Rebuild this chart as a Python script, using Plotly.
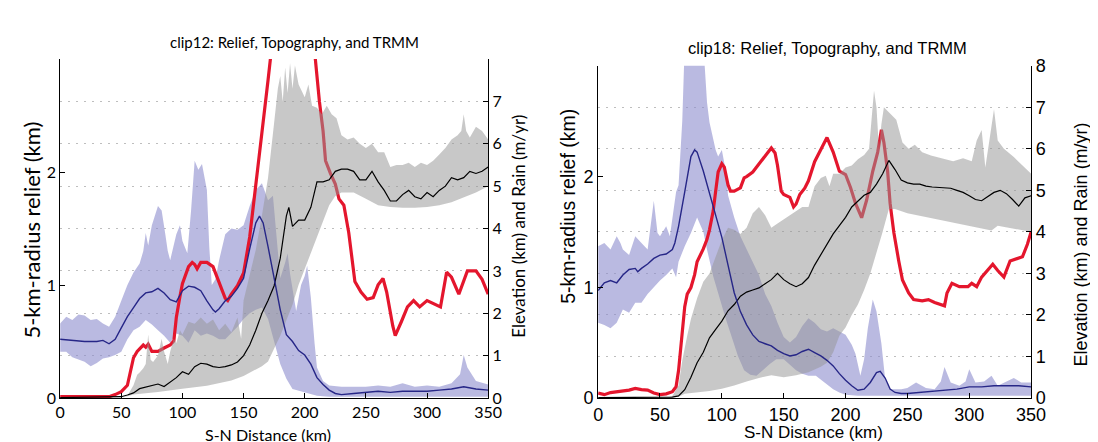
import plotly.graph_objects as go

W, H = 1098, 442

# ---------------- clip12 (left panel) ----------------
c12_relief_x = [0, 10, 20, 30, 35, 40, 45, 50, 55, 60, 65, 70, 75, 80, 85, 90, 95, 100, 105, 110, 115, 120,
                125, 127, 130, 135, 140, 145, 150, 155, 160, 163, 166, 170, 175, 180, 185, 190, 195, 200, 205,
                210, 215, 220, 225, 230, 240, 250, 260, 270, 280, 290, 300, 310, 320, 330, 335, 340, 350]
c12_relief = [.52, .51, .50, .50, .51, .48, .52, .62, .72, .80, .88, .93, .94, .97, .93, .87, .85, .95, .99, .98,
              .95, .86, .78, .76, .79, .86, .90, .97, 1.06, 1.32, 1.55, 1.61, 1.55, 1.34, 1.06, .78, .56, .50,
              .42, .38, .30, .18, .12, .07, .04, .03, .04, .05, .06, .05, .06, .06, .06, .07, .08, .10, .09,
              .08, .07]

c12_relief_hi_x = [0, 5, 10, 15, 20, 25, 30, 35, 40, 45, 50, 55, 60, 65, 68, 70, 72, 75, 80, 83, 86, 88, 90,
                   95, 98, 100, 104, 107, 110, 113, 116, 120, 122, 124, 127, 130, 135, 140, 145, 150, 155, 160,
                   165, 170, 174, 177, 180, 184, 186, 188, 190, 193, 197, 200, 202, 205, 208, 210, 215, 220,
                   230, 240, 250, 260, 270, 280, 290, 300, 310, 320, 327, 330, 333, 340, 350]
c12_relief_hi = [.66, .72, .69, .74, .73, .69, .70, .66, .63, .72, .86, 1.0, 1.11, 1.19, 1.3, 1.46, 1.35, 1.53,
                 1.70, 1.66, 1.45, 1.3, 1.22, 1.45, 1.53, 1.39, 1.28, 1.65, 2.10, 2.02, 2.07, 1.84, 1.33, 1.0,
                 1.05, 1.22, 1.45, 1.50, 1.49, 1.53, 1.70, 1.84, 1.9, 1.75, 1.79, 1.4, 1.06, 1.2, 1.28, 1.1,
                 .97, .77, 1.0, 1.08, 1.17, .89, .49, .27, .15, .11, .10, .10, .10, .11, .10, .13, .10, .11,
                 .10, .13, .21, .38, .27, .15, .12]

c12_relief_lo_x = [0, 5, 10, 15, 20, 25, 30, 35, 40, 45, 50, 55, 60, 65, 70, 75, 80, 85, 90, 95, 100, 105, 110,
                   115, 120, 125, 130, 135, 140, 145, 150, 155, 160, 165, 170, 175, 180, 185, 190, 200, 210,
                   220, 230, 260, 300, 330, 350]
c12_relief_lo = [.41, .41, .36, .34, .32, .28, .31, .35, .36, .38, .41, .52, .60, .63, .69, .65, .60, .55, .49,
                 .57, .55, .49, .60, .55, .57, .55, .52, .52, .57, .63, .70, .75, .78, .80, .70, .50, .30, .17,
                 .08, .05, .02, .01, .01, .01, .01, .01, .01]

c12_elev_hi_x = [50, 55, 60, 63, 65, 68, 70, 72, 74, 76, 80, 83, 85, 88, 90, 93, 95, 98, 100, 105, 110, 115,
                 120, 125, 130, 135, 140, 145, 148, 150, 155, 160, 165, 170, 175, 178, 180, 182, 184, 186, 188,
                 190, 192, 195, 200, 203, 206, 210, 214, 218, 222, 226, 230, 235, 240, 245, 250, 255, 260, 265,
                 270, 275, 280, 285, 290, 295, 300, 305, 310, 315, 320, 325, 328, 330, 332, 335, 340, 345, 350]
c12_elev_hi = [0, .05, .3, .55, .6, .7, .8, 1.5, .9, .85, 1.0, 1.4, 1.1, .8, 1.1, 1.4, 1.3, 1.6, 1.5, 1.8,
               1.75, 1.9, 1.75, 1.85, 1.6, 1.75, 1.55, 1.9, 1.4, 2.3, 2.9, 3.5, 4.3, 5.2, 6.5, 7.3, 7.6, 7.0,
               7.8, 7.2, 7.9, 7.3, 7.85, 7.4, 7.1, 7.4, 6.9, 6.85, 6.7, 6.9, 6.7, 6.6, 6.2, 6.1, 6.15, 6.0, 5.9,
               6.0, 5.8, 5.8, 5.45, 5.5, 5.5, 5.55, 5.45, 5.55, 5.5, 5.6, 5.75, 5.9, 6.1, 6.2, 6.3, 6.7, 6.3,
               6.15, 6.4, 6.3, 6.1]

c12_elev_lo_x = [50, 60, 80, 100, 120, 140, 150, 160, 165, 170, 175, 180, 185, 190, 195, 200, 205, 210, 215,
                 220, 225, 230, 240, 250, 260, 270, 280, 290, 300, 310, 320, 330, 340, 350]
c12_elev_lo = [0, .08, .14, .22, .29, .41, .52, .67, .75, .86, 1.17, 1.47, 1.84, 2.2, 2.67, 3.05, 3.42, 3.8,
               4.17, 4.55, 4.77, 4.85, 4.85, 4.7, 4.55, 4.51, 4.49, 4.49, 4.51, 4.55, 4.62, 4.74, 4.85, 5.0]

c12_elev_x = [0, 50, 55, 60, 65, 70, 75, 80, 85, 90, 95, 100, 105, 110, 115, 120, 125, 130, 135, 140, 145, 150,
              155, 160, 165, 170, 175, 180, 185, 187, 190, 195, 200, 205, 210, 215, 220, 225, 230, 235, 240,
              245, 250, 255, 260, 265, 270, 275, 280, 285, 290, 295, 300, 305, 310, 315, 320, 325, 330, 335,
              340, 345, 350]
c12_elev = [.01, .03, .07, .12, .22, .26, .29, .33, .27, .37, .48, .62, .56, .74, .82, .80, .74, .72, .74, .78,
            .85, 1.0, 1.25, 1.6, 2.0, 2.3, 2.65, 3.3, 4.3, 4.5, 4.05, 4.2, 4.2, 4.5, 5.1, 5.1, 5.15, 5.35, 5.4,
            5.4, 5.35, 5.15, 5.15, 5.35, 5.1, 4.9, 4.65, 4.65, 4.8, 4.9, 4.75, 4.7, 4.85, 4.75, 4.9, 5.0, 5.2,
            5.15, 5.2, 5.35, 5.3, 5.35, 5.45]

c12_rain_x = [0, 40, 45, 50, 55, 58, 60, 63, 65, 68, 70, 72, 75, 80, 85, 90, 93, 95, 98, 100, 105, 108, 110,
              112, 115, 120, 125, 130, 135, 137, 140, 145, 150, 155, 160, 165, 170, 175, 180, 200, 205, 208,
              212, 215, 217, 221, 225, 228, 232, 236, 239, 241, 246, 251, 256, 260, 264, 267, 272, 274, 279,
              284, 289, 294, 300, 307, 311, 316, 320, 326, 333, 340, 345, 350]
c12_rain = [.03, .03, .08, .15, .3, .7, .95, 1.1, 1.15, 1.25, 1.2, 1.27, 1.1, 1.1, 1.18, 1.25, 1.35, 1.9, 2.4,
            2.7, 3.1, 3.2, 3.15, 3.05, 3.2, 3.2, 3.1, 2.7, 2.35, 2.3, 2.45, 2.65, 2.95, 3.8, 5.0, 6.2, 7.5,
            8.8, 10, 10, 9.5, 8.2, 7.0, 6.3, 5.6, 5.3, 5.05, 4.7, 4.55, 3.9, 3.25, 2.75, 2.5, 2.33, 2.37, 2.67,
            2.82, 2.5, 1.7, 1.47, 1.8, 2.15, 2.3, 2.15, 2.3, 2.2, 2.15, 2.97, 2.85, 2.45, 3.0, 3.0, 2.8, 2.45]

# ---------------- clip18 (right panel) ----------------
c18_relief_x = [0, 5, 10, 15, 20, 25, 30, 32, 35, 40, 45, 50, 55, 60, 62, 65, 70, 75, 78, 80, 85, 90, 95, 100,
                105, 110, 115, 120, 125, 130, 135, 140, 145, 150, 155, 160, 165, 170, 175, 180, 185, 190, 195,
                200, 205, 210, 215, 220, 225, 228, 232, 236, 240, 245, 250, 260, 270, 280, 290, 300, 310, 320,
                330, 340, 350]
c18_relief = [.97, 1.04, 1.06, 1.04, 1.11, 1.16, 1.17, 1.14, 1.17, 1.21, 1.26, 1.29, 1.30, 1.34, 1.40, 1.55,
              1.86, 2.18, 2.24, 2.22, 2.05, 1.85, 1.65, 1.45, 1.2, .95, .78, .66, .57, .51, .49, .47, .43, .40,
              .38, .39, .42, .44, .41, .38, .34, .29, .22, .16, .11, .07, .08, .14, .23, .24, .18, .08, .05,
              .04, .04, .05, .06, .07, .08, .10, .10, .11, .11, .11, .10]

c18_relief_hi_x = [0, 5, 10, 15, 18, 20, 25, 30, 35, 40, 45, 48, 50, 55, 58, 60, 63, 65, 68, 70, 85, 88, 90, 95,
                   97, 100, 103, 105, 110, 115, 120, 125, 130, 135, 140, 145, 150, 155, 160, 165, 170, 175, 180,
                   185, 190, 195, 200, 205, 208, 212, 215, 218, 222, 225, 229, 232, 236, 245, 250, 257, 265,
                   272, 277, 280, 285, 292, 297, 300, 305, 312, 318, 323, 330, 336, 342, 350]
c18_relief_hi = [1.37, 1.40, 1.34, 1.46, 1.40, 1.34, 1.29, 1.46, 1.40, 1.34, 1.78, 1.49, 1.46, 1.55, 1.46, 1.63,
                 1.86, 1.92, 2.5, 3.2, 3.2, 2.67, 2.49, 2.24, 2.18, 2.24, 2.06, 1.83, 1.63, 1.46, 1.34, 1.23,
                 1.11, .94, .83, .68, .55, .5, .55, .65, .72, .68, .62, .60, .63, .6, .57, .48, .40, .20, .35,
                 .63, .89, .78, .49, .17, .08, .08, .09, .14, .09, .08, .15, .28, .14, .11, .15, .26, .14, .15,
                 .20, .11, .15, .18, .14, .14]

c18_relief_lo_x = [0, 5, 10, 15, 20, 25, 30, 35, 40, 45, 50, 55, 60, 63, 65, 70, 75, 80, 85, 88, 93, 98, 103,
                   108, 113, 118, 123, 128, 134, 139, 144, 150, 155, 160, 165, 170, 176, 180, 185, 190, 195,
                   200, 210, 350]
c18_relief_lo = [.68, .66, .63, .68, .80, .77, .86, .86, .94, 1.0, 1.06, 1.11, 1.17, 1.09, 1.23, 1.37, 1.49,
                 1.63, 1.5, 1.34, 1.1, .91, .72, .54, .38, .25, .21, .20, .26, .31, .35, .35, .30, .25, .22,
                 .20, .20, .16, .12, .08, .05, .03, .02, .02]

c18_elev_hi_x = [55, 60, 65, 68, 72, 75, 80, 85, 90, 95, 100, 105, 110, 115, 120, 125, 130, 135, 140, 145, 150,
                 155, 160, 165, 170, 175, 180, 184, 187, 190, 195, 200, 205, 210, 215, 219, 221, 223, 225, 227,
                 229, 231, 236, 241, 246, 251, 256, 262, 269, 277, 287, 295, 302, 306, 310, 313, 317, 320, 323,
                 328, 336, 343, 350]
c18_elev_hi = [0, .05, .3, .9, 1.5, 1.9, 2.4, 2.8, 3.0, 3.4, 3.8, 4.1, 4.05, 3.95, 4.1, 4.45, 4.6, 4.4, 4.1,
               4.2, 4.3, 4.4, 4.5, 4.6, 4.6, 5.1, 5.3, 5.35, 5.1, 5.4, 5.4, 5.55, 5.6, 5.75, 5.85, 6.0, 6.7,
               7.4, 7.0, 6.0, 6.6, 7.0, 6.85, 6.7, 6.15, 6.0, 6.1, 5.92, 5.84, 5.77, 5.7, 5.77, 5.7, 6.2, 6.45,
               5.55, 6.3, 6.95, 6.2, 6.0, 5.8, 5.6, 5.4]

c18_elev_lo_x = [55, 65, 70, 80, 90, 100, 110, 120, 130, 140, 150, 160, 170, 180, 185, 190, 195, 200, 205, 210,
                 215, 220, 225, 230, 235, 240, 250, 260, 270, 280, 290, 300, 310, 318, 323, 330, 340, 350]
c18_elev_lo = [0, .03, .1, .13, .17, .22, .3, .4, .48, .55, .5, .55, .62, .75, .85, 1.1, 1.5, 1.7, 2.0, 2.25,
               2.6, 3.0, 3.5, 4.0, 4.55, 4.55, 4.45, 4.4, 4.33, 4.27, 4.2, 4.15, 4.08, 4.03, 4.15, 4.1, 4.05,
               4.0]

c18_elev_x = [0, 60, 65, 70, 75, 80, 85, 90, 95, 100, 105, 110, 115, 120, 125, 130, 135, 140, 145, 150, 155,
              160, 165, 170, 175, 180, 185, 190, 195, 200, 205, 210, 215, 220, 225, 230, 235, 240, 245, 250,
              255, 260, 265, 270, 275, 280, 285, 290, 295, 300, 305, 310, 315, 320, 325, 330, 335, 340, 345, 350]
c18_elev = [.01, .02, .05, .2, .5, .85, 1.1, 1.45, 1.65, 1.85, 2.1, 2.25, 2.45, 2.55, 2.6, 2.65, 2.75, 2.85,
            3.0, 2.85, 2.75, 2.68, 2.75, 2.9, 3.2, 3.45, 3.7, 3.95, 4.15, 4.35, 4.6, 4.75, 4.88, 4.95, 5.15,
            5.4, 5.72, 5.5, 5.25, 5.18, 5.15, 5.15, 5.1, 5.08, 5.07, 5.07, 5.05, 5.0, 4.95, 4.87, 4.78, 4.75,
            4.85, 4.95, 5.0, 4.92, 4.78, 4.62, 4.82, 4.87]

c18_rain_x = [0, 5, 10, 15, 20, 25, 30, 35, 40, 45, 50, 55, 60, 63, 65, 68, 70, 72, 75, 78, 80, 85, 88, 90, 93,
              95, 97, 100, 102, 105, 107, 110, 115, 118, 120, 125, 130, 135, 140, 143, 145, 148, 150, 155, 158,
              160, 163, 167, 170, 175, 180, 185, 190, 195, 200, 204, 208, 213, 217, 222, 226, 229, 231, 234,
              236, 239, 243, 246, 251, 255, 262, 267, 272, 280, 282, 286, 292, 299, 302, 306, 310, 315, 319,
              323, 328, 333, 338, 343, 347, 350]
c18_rain = [.12, .08, .13, .15, .18, .19, .23, .2, .19, .12, .08, .1, .15, .27, .66, 1.66, 2.2, 2.5, 2.66, 2.97,
            3.28, 3.59, 3.82, 4.05, 4.5, 4.98, 5.44, 5.64, 5.56, 5.13, 4.98, 4.98, 5.06, 5.3, 5.33, 5.44, 5.64,
            5.83, 6.02, 5.9, 5.6, 4.98, 4.9, 4.83, 4.6, 4.67, 4.9, 5.05, 5.23, 5.69, 6.0, 6.27, 5.92, 5.46,
            5.38, 5.07, 4.69, 4.34, 4.76, 5.46, 5.92, 6.46, 6.15, 5.46, 4.69, 3.99, 3.3, 2.84, 2.53, 2.37,
            2.34, 2.37, 2.3, 2.22, 2.53, 2.76, 2.68, 2.68, 2.76, 2.68, 2.91, 3.07, 3.22, 3.07, 2.91, 3.3, 3.35,
            3.4, 3.7, 4.0]

x_ticks = [0, 50, 100, 150, 200, 250, 300, 350]

BLUE_BAND = "rgba(140,140,205,0.60)"
GRAY_BAND = "rgba(150,150,150,0.52)"
BLUE_LINE = "rgb(38,38,135)"
RED_LINE = "rgb(228,22,45)"


def band(xhi, hi, xlo, lo, color, xa, ya):
    return go.Scatter(x=list(xhi) + list(xlo)[::-1], y=list(hi) + list(lo)[::-1],
                      fill="toself", fillcolor=color, mode="lines", line=dict(width=0),
                      xaxis=xa, yaxis=ya, hoverinfo="skip", showlegend=False)


def line(x, y, color, width, xa, ya):
    return go.Scatter(x=x, y=y, mode="lines", line=dict(color=color, width=width),
                      xaxis=xa, yaxis=ya, hoverinfo="skip", showlegend=False)


fig = go.Figure()

# left panel: relief band (y), rain/elev (y2), relief mean on top (y3)
fig.add_trace(band(c12_relief_hi_x, c12_relief_hi, c12_relief_lo_x, c12_relief_lo, BLUE_BAND, "x", "y"))
fig.add_trace(line(c12_rain_x, c12_rain, RED_LINE, 3.2, "x", "y2"))
fig.add_trace(band(c12_elev_hi_x, c12_elev_hi, c12_elev_lo_x, c12_elev_lo, GRAY_BAND, "x", "y2"))
fig.add_trace(line(c12_elev_x, c12_elev, "black", 1.2, "x", "y2"))
fig.add_trace(line(c12_relief_x, c12_relief, BLUE_LINE, 1.4, "x", "y3"))

# right panel
fig.add_trace(band(c18_relief_hi_x, c18_relief_hi, c18_relief_lo_x, c18_relief_lo, BLUE_BAND, "x2", "y4"))
fig.add_trace(line(c18_rain_x, c18_rain, RED_LINE, 3.2, "x2", "y5"))
fig.add_trace(band(c18_elev_hi_x, c18_elev_hi, c18_elev_lo_x, c18_elev_lo, GRAY_BAND, "x2", "y5"))
fig.add_trace(line(c18_elev_x, c18_elev, "black", 1.2, "x2", "y5"))
fig.add_trace(line(c18_relief_x, c18_relief, BLUE_LINE, 1.4, "x2", "y6"))


def px_x(p):
    return p / W


def px_y(p):
    return (H - p) / H


F1 = "Lato, Open Sans, sans-serif"
F2 = "Liberation Sans, Arial, sans-serif"

axis_common = dict(showline=True, linecolor="black", linewidth=1, ticks="inside", ticklen=5,
                   tickcolor="black", zeroline=False, showgrid=False)
right_common = dict(showline=True, linecolor="black", linewidth=1, ticks="inside", ticklen=5,
                    tickcolor="black", zeroline=False, showgrid=True, gridcolor="rgb(190,190,190)",
                    griddash="2px,6px", gridwidth=1)

fig.update_layout(
    width=W, height=H,
    margin=dict(l=0, r=0, t=0, b=0),
    paper_bgcolor="white", plot_bgcolor="white",
    showlegend=False,
    xaxis=dict(domain=[px_x(48), px_x(484)], anchor="y", range=[0, 350], tickvals=x_ticks,
               tickfont=dict(family=F1, size=16, color="black"), **axis_common),
    yaxis=dict(domain=[px_y(398), px_y(43)], anchor="x", range=[0, 3], tickvals=[0, 1, 2],
               tickfont=dict(family=F1, size=16, color="black"), **axis_common),
    yaxis2=dict(overlaying="y", anchor="x", side="right", range=[0, 8], tickvals=list(range(8)),
                tickfont=dict(family=F1, size=16, color="black"), **right_common),
    yaxis3=dict(overlaying="y", anchor="x", range=[0, 3], visible=False),
    xaxis2=dict(domain=[px_x(596), px_x(1037)], anchor="y4", range=[0, 350], tickvals=x_ticks,
                tickfont=dict(family=F2, size=18, color="black"), **axis_common),
    yaxis4=dict(domain=[px_y(398), px_y(50)], anchor="x2", range=[0, 3], tickvals=[0, 1, 2],
                tickfont=dict(family=F2, size=18, color="black"), **axis_common),
    yaxis5=dict(overlaying="y4", anchor="x2", side="right", range=[0, 8], tickvals=list(range(9)),
                tickfont=dict(family=F2, size=18, color="black"), **right_common),
    yaxis6=dict(overlaying="y4", anchor="x2", range=[0, 3], visible=False),
)

# titles and axis labels
texts = [
    ("clip12: Relief, Topography, and TRMM", 287, 25, 0, F1, 15),
    ("clip18: Relief, Topography, and TRMM", 830, 31, 0, F2, 16.5),
    ("S-N Distance (km)", 260, 436, 0, F1, 16),
    ("S-N Distance (km)", 815, 434, 0, F2, 17),
    ("5-km-radius relief (km)", 19, 222, -90, F1, 22),
    ("Elevation (km) and Rain (m/yr)", 515, 218, -90, F1, 17),
    ("5-km-radius relief (km)", 565, 197, -90, F2, 19.5),
    ("Elevation (km) and Rain (m/yr)", 1088, 237, -90, F2, 18),
]
for txt, x, y, ang, fam, size in texts:
    fig.add_annotation(text=txt, x=px_x(x), y=px_y(y), xref="paper", yref="paper",
                       xanchor="center", yanchor="middle", textangle=ang, showarrow=False,
                       font=dict(family=fam, size=size, color="black"))

fig.write_html("out.html")
